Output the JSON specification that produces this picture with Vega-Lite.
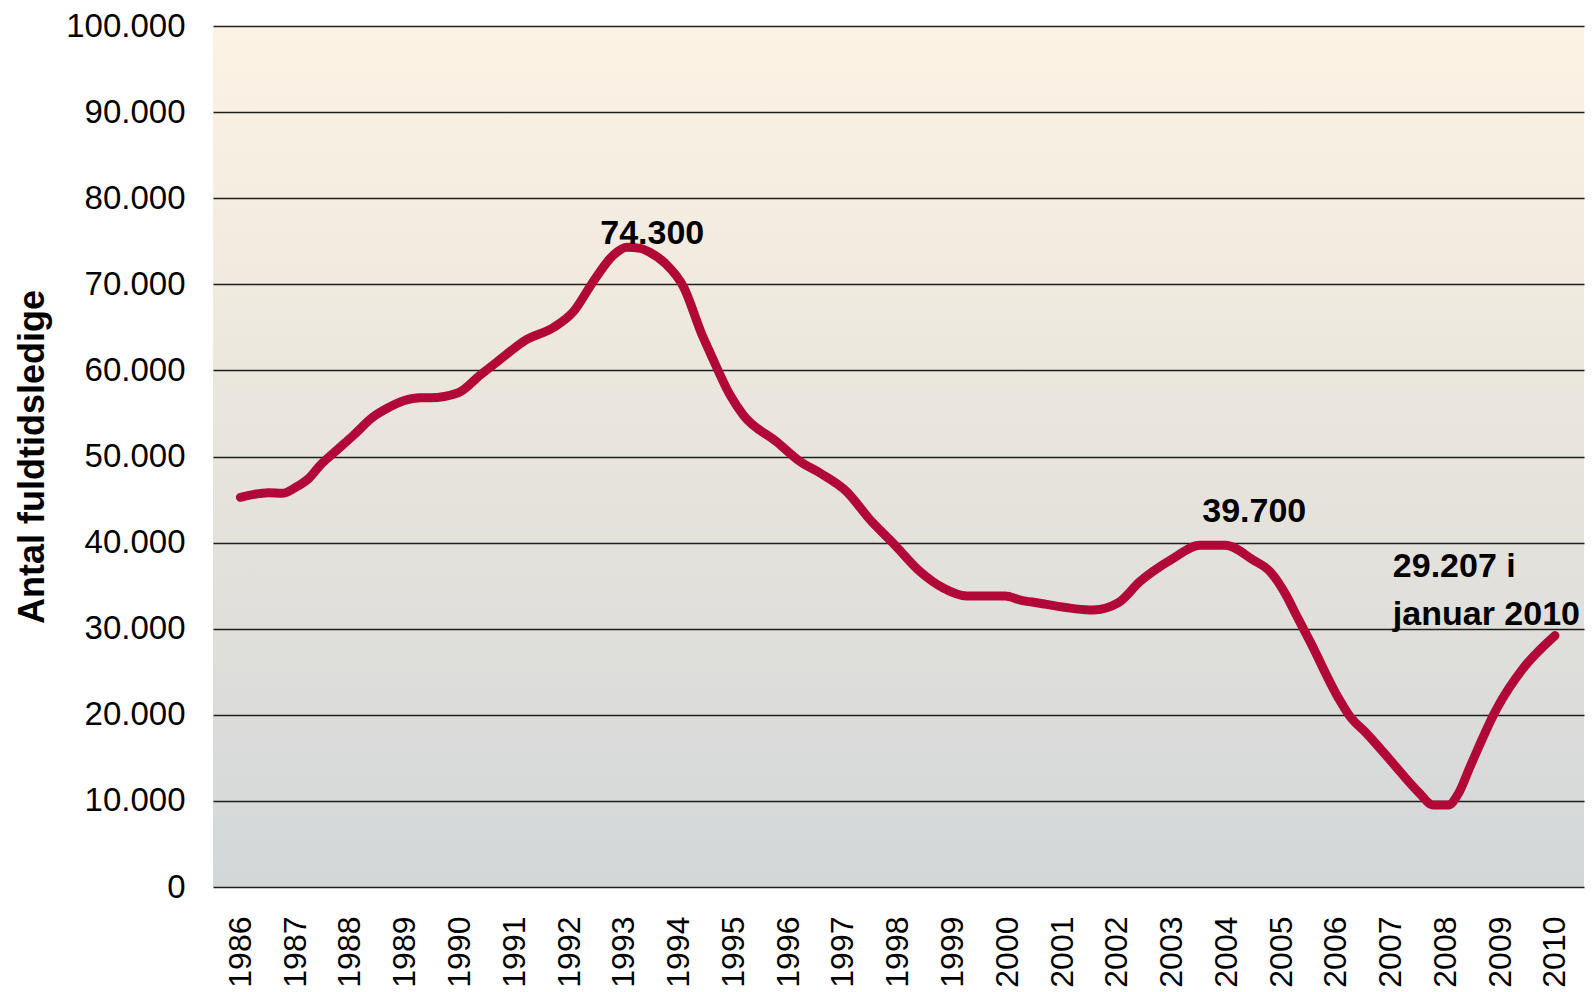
{
  "$schema": "https://vega.github.io/schema/vega-lite/v6.json",
  "width": 1371,
  "height": 861,
  "autosize": {"type": "none"},
  "padding": {"left": 213, "top": 26, "right": 8, "bottom": 105},
  "background": "white",
  "view": {
    "stroke": null,
    "fill": {"gradient": "linear", "x1": 0, "y1": 0, "x2": 0, "y2": 1,
      "stops": [{"offset": 0, "color": "#FCF3E4"}, {"offset": 0.5, "color": "#E8E4DC"}, {"offset": 1, "color": "#D3D7D9"}]}
  },
  "config": {
    "font": "Liberation Sans",
    "locale": {"number": {"decimal": ",", "thousands": ".", "grouping": [3], "currency": ["", " kr."]}}
  },
  "datasets": {
    "series": [
      {"t": 1986.00, "v": 45260}, {"t": 1986.52, "v": 45800}, {"t": 1986.76, "v": 45720},
      {"t": 1987.03, "v": 46500}, {"t": 1987.25, "v": 47460}, {"t": 1987.46, "v": 49010},
      {"t": 1987.73, "v": 50560}, {"t": 1988.07, "v": 52500}, {"t": 1988.43, "v": 54620},
      {"t": 1988.68, "v": 55600}, {"t": 1988.98, "v": 56480}, {"t": 1989.29, "v": 56830},
      {"t": 1989.47, "v": 56830}, {"t": 1989.98, "v": 57410}, {"t": 1990.38, "v": 59470},
      {"t": 1990.69, "v": 61010}, {"t": 1991.23, "v": 63600}, {"t": 1991.71, "v": 64960},
      {"t": 1992.08, "v": 66820}, {"t": 1992.44, "v": 70300}, {"t": 1992.81, "v": 73400},
      {"t": 1993.06, "v": 74300}, {"t": 1993.30, "v": 74170}, {"t": 1993.48, "v": 73690},
      {"t": 1993.76, "v": 72410}, {"t": 1994.09, "v": 69700}, {"t": 1994.43, "v": 64110},
      {"t": 1994.58, "v": 61980}, {"t": 1994.94, "v": 57140}, {"t": 1995.18, "v": 54820},
      {"t": 1995.79, "v": 51720}, {"t": 1996.22, "v": 49400}, {"t": 1996.59, "v": 48050},
      {"t": 1997.07, "v": 45910}, {"t": 1997.50, "v": 42620}, {"t": 1997.92, "v": 39920},
      {"t": 1998.41, "v": 36620}, {"t": 1998.84, "v": 34690}, {"t": 1999.26, "v": 33800},
      {"t": 1999.96, "v": 33800}, {"t": 2000.24, "v": 33330}, {"t": 2000.54, "v": 33020},
      {"t": 2001.57, "v": 32170}, {"t": 2002.03, "v": 33020}, {"t": 2002.42, "v": 35460},
      {"t": 2003.00, "v": 38050}, {"t": 2003.52, "v": 39700}, {"t": 2003.98, "v": 39700},
      {"t": 2004.49, "v": 37980}, {"t": 2004.80, "v": 36620}, {"t": 2005.10, "v": 33800},
      {"t": 2005.26, "v": 31790}, {"t": 2005.53, "v": 28490}, {"t": 2006.05, "v": 21910},
      {"t": 2006.26, "v": 19780}, {"t": 2006.56, "v": 17850}, {"t": 2006.99, "v": 14750},
      {"t": 2007.50, "v": 11070}, {"t": 2007.78, "v": 9520}, {"t": 2008.05, "v": 9520},
      {"t": 2008.24, "v": 10880}, {"t": 2008.45, "v": 13970}, {"t": 2008.94, "v": 20750},
      {"t": 2009.42, "v": 25400}, {"t": 2010.00, "v": 29207}
    ],
    "notes": [
      {"t": 1992.57, "v": 74680, "label": "74.300"},
      {"t": 2003.56, "v": 42430, "label": "39.700"},
      {"t": 2007.04, "v": 36000, "label": "29.207 i"},
      {"t": 2007.04, "v": 30430, "label": "januar 2010"}
    ]
  },
  "encoding": {
    "x": {
      "field": "t", "type": "quantitative",
      "scale": {"domain": [1985.5, 2010.53], "nice": false, "zero": false},
      "axis": {
        "values": [1986, 1987, 1988, 1989, 1990, 1991, 1992, 1993, 1994, 1995, 1996, 1997, 1998, 1999, 2000, 2001, 2002, 2003, 2004, 2005, 2006, 2007, 2008, 2009, 2010],
        "format": "d", "labelAngle": -90, "labelFontSize": 32, "labelPadding": 29,
        "labelColor": "#000000", "labelFont": "Liberation Sans",
        "grid": false, "ticks": false, "domain": false, "title": null, "labelOverlap": false
      }
    },
    "y": {
      "field": "v", "type": "quantitative",
      "scale": {"domain": [0, 100000], "nice": false},
      "axis": {
        "values": [0, 10000, 20000, 30000, 40000, 50000, 60000, 70000, 80000, 90000, 100000],
        "format": ",d", "labelFontSize": 33, "labelPadding": 28, "labelColor": "#000000",
        "labelFont": "Liberation Sans",
        "ticks": false, "domain": false, "grid": true, "gridColor": "#1e1e1e", "gridWidth": 1.3,
        "title": "Antal fuldtidsledige", "titleFontSize": 36, "titleFontWeight": "bold",
        "titleColor": "#000000", "titleFont": "Liberation Sans", "titlePadding": 14,
        "labelOverlap": false
      }
    }
  },
  "layer": [
    {
      "data": {"name": "series"},
      "mark": {"type": "line", "color": "#B20837", "strokeWidth": 9, "strokeCap": "round", "strokeJoin": "round", "interpolate": "monotone"}
    },
    {
      "data": {"name": "notes"},
      "mark": {"type": "text", "align": "left", "baseline": "alphabetic", "fontSize": 34, "fontWeight": "bold", "color": "#000000", "font": "Liberation Sans"},
      "encoding": {
        "text": {"field": "label", "type": "nominal"}
      }
    }
  ]
}
